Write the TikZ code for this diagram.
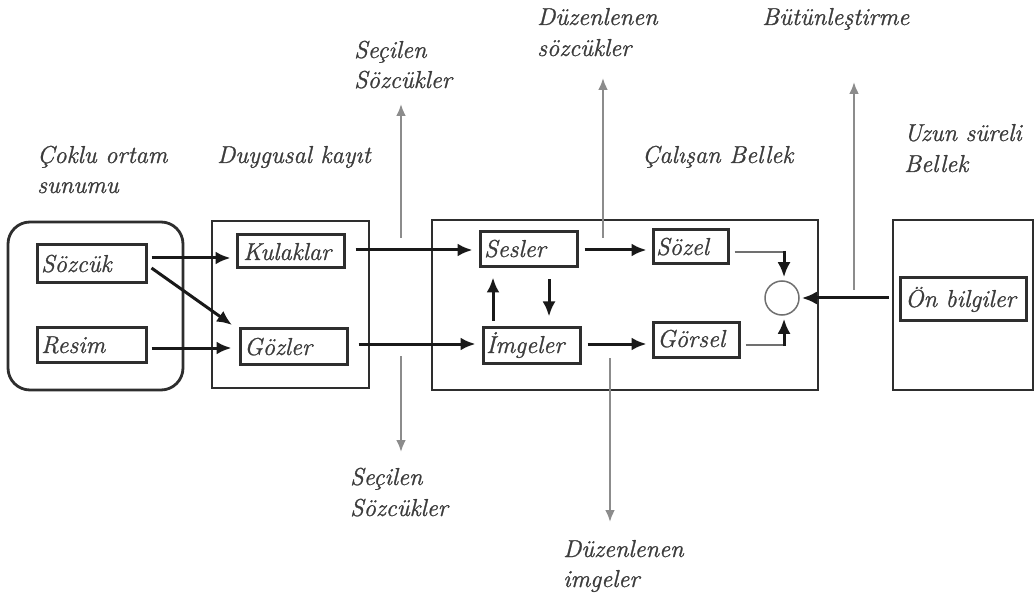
\documentclass[tikz,border=0pt]{standalone}
\usepackage{fontspec}
\setmainfont{Latin Modern Roman}[ItalicFeatures={FakeBold=1.0}]
\usetikzlibrary{arrows.meta}
\definecolor{ink}{HTML}{2E2E2E}
\definecolor{txt}{HTML}{3C3C3C}
\definecolor{gry}{HTML}{8C8C8C}
\begin{document}
\begin{tikzpicture}[x=1pt,y=-1pt,
  lbl/.style={font=\fontsize{24.5}{31}\selectfont\itshape, text=txt, inner sep=0pt, anchor=base west},
  outer/.style={draw=ink, line width=2.8pt, inner sep=0pt},
  inbox/.style={draw=ink, line width=3pt, inner sep=0pt},
  arr/.style={draw=black!90, line width=3pt, -{Latex[length=15pt,width=13pt]}},
  garr/.style={draw=gry, line width=2.4pt, -{Latex[length=12pt,width=10pt]}},
  thinl/.style={draw=gry!80!black, line width=1.5pt}
]
\useasboundingbox (0,0) rectangle (1035,601);
% outer containers
\node[outer, rounded corners=22pt, minimum width=175pt, minimum height=168pt] (multi) at (95.5,306) {};
\node[outer, minimum width=157pt, minimum height=167pt] (sens) at (290.5,304.5) {};
\node[outer, minimum width=386pt, minimum height=170pt] (wm) at (625,305) {};
\node[outer, minimum width=140pt, minimum height=170pt] (ltm) at (963,305) {};
% inner boxes
\node[inbox, minimum width=109pt, minimum height=38pt] (sozcuk) at (91.5,264) {};
\node[lbl] (tsozcuk) at (41,272) {Sözcük};
\node[inbox, minimum width=109pt, minimum height=35pt] (resim) at (91.5,344.5) {};
\node[lbl] (tresim) at (41,353) {Resim};
\node[inbox, minimum width=107pt, minimum height=33pt] (kulak) at (290.5,251.5) {};
\node[lbl] (tkulak) at (243,260) {Kulaklar};
\node[inbox, minimum width=107pt, minimum height=36pt] (gozler) at (293.5,346) {};
\node[lbl] (tgozler) at (244,355) {Gözler};
\node[inbox, minimum width=97pt, minimum height=35pt] (sesler) at (528.5,249.5) {};
\node[lbl] (tsesler) at (484,257) {Sesler};
\node[inbox, minimum width=97pt, minimum height=36pt] (imgeler) at (531.5,345) {};
\node[lbl] (timgeler) at (486,353) {İmgeler};
\node[inbox, minimum width=75pt, minimum height=34pt] (sozel) at (690.5,247) {};
\node[lbl] (tsozel) at (656,255) {Sözel};
\node[inbox, minimum width=86pt, minimum height=35pt] (gorsel) at (696,339.5) {};
\node[lbl] (tgorsel) at (657,347) {Görsel};
\node[inbox, minimum width=126pt, minimum height=42pt] (onb) at (963,299) {};
\node[lbl] (tonb) at (905,307) {Ön bilgiler};
\node[draw=gry!80!black, line width=1.5pt, circle, minimum size=34pt, inner sep=0pt] (circ) at (782,298) {};
% labels
\node[lbl] (l1a) at (37,163) {Çoklu ortam};
\node[lbl] (l1b) at (37,193) {sunumu};
\node[lbl] (l2) at (217,163) {Duygusal kayıt};
\node[lbl] (l3) at (642,163) {Çalışan Bellek};
\node[lbl] (l4a) at (904,141) {Uzun süreli};
\node[lbl] (l4b) at (904,172) {Bellek};
\node[lbl] (s1a) at (354,58) {Seçilen};
\node[lbl] (s1b) at (354,88) {Sözcükler};
\node[lbl] (s2a) at (350,485) {Seçilen};
\node[lbl] (s2b) at (350,516) {Sözcükler};
\node[lbl] (d1a) at (537,25) {Düzenlenen};
\node[lbl] (d1b) at (537,56) {sözcükler};
\node[lbl] (d2a) at (563,557) {Düzenlenen};
\node[lbl] (d2b) at (563,587) {imgeler};
\node[lbl] (b1) at (762,25) {Bütünleştirme};
% coordinates for free ends
\coordinate (su1) at (401,238); \coordinate (su2) at (401,104);
\coordinate (sd1) at (401,356); \coordinate (sd2) at (401,452);
\coordinate (du1) at (603,238); \coordinate (du2) at (603,78);
\coordinate (dd1) at (610,358); \coordinate (dd2) at (610,522);
\coordinate (bu1) at (854,290); \coordinate (bu2) at (854,82);
\coordinate (c1) at (784,252); \coordinate (c2) at (784,345);
% black arrows
\draw[arr] ([xshift=4pt]sozcuk.east |- 0,258) -- ([xshift=-5pt]kulak.west |- 0,258);
\draw[arr] ([xshift=4pt]sozcuk.east |- 0,268) -- (232,325);
\draw[arr] ([xshift=4pt]resim.east |- 0,348) -- ([xshift=-7pt]gozler.west |- 0,348);
\draw[arr] ([xshift=10pt]kulak.east |- 0,250) -- ([xshift=-6pt]sesler.west |- 0,250);
\draw[arr] ([xshift=10pt]gozler.east |- 0,344) -- ([xshift=-6pt]imgeler.west |- 0,344);
\draw[arr] ([xshift=6pt]sesler.east |- 0,250) -- ([xshift=-5pt]sozel.west |- 0,250);
\draw[arr] ([xshift=6pt]imgeler.east |- 0,344) -- ([xshift=-5pt]gorsel.west |- 0,344);
\draw[arr] ([yshift=5pt]imgeler.north -| 493,0) -- ([yshift=-9pt]sesler.south -| 493,0);
\draw[arr] ([yshift=-11pt]sesler.south -| 549,0) -- ([yshift=9pt]imgeler.north -| 549,0);
\draw[thinl] ([xshift=5pt]sozel.east |- c1) -- (c1);
\draw[arr] ([yshift=1pt]c1) -- ([yshift=3pt]circ.north -| c1);
\draw[thinl] ([xshift=5pt]gorsel.east |- c2) -- (c2);
\draw[arr] ([yshift=-1pt]c2) -- ([yshift=-3pt]circ.south -| c2);
\draw[arr] ([xshift=-3pt]ltm.west |- circ) -- ([xshift=2pt]circ.east);
% gray arrows
\draw[garr] (su1) -- (su2);
\draw[garr] (sd1) -- (sd2);
\draw[garr] (du1) -- (du2);
\draw[garr] (dd1) -- (dd2);
\draw[garr] (bu1) -- (bu2);
\end{tikzpicture}
\end{document}
